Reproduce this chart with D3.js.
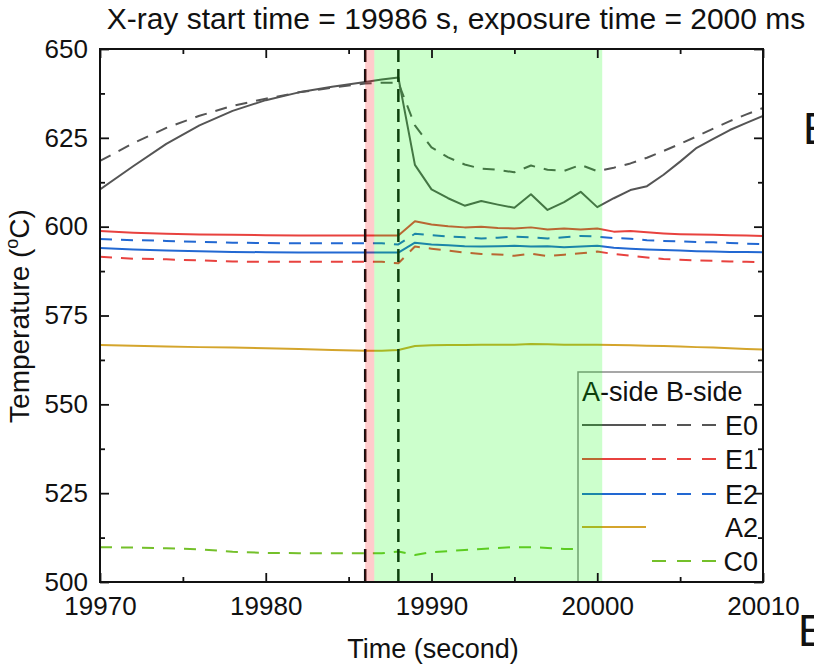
<!DOCTYPE html>
<html><head><meta charset="utf-8">
<script src="https://cdn.jsdelivr.net/npm/d3@7"></script>
<style>
body{margin:0;background:#fff}
svg{display:block}
text{font-family:"Liberation Sans",Arial,Helvetica,sans-serif;fill:#111}
</style>
</head><body>
<svg id="chart" width="814" height="666"></svg>
<script>
// ---------------- data ----------------
const titleText = "X-ray start time = 19986 s, exposure time = 2000 ms";
const xTicks = [19970, 19980, 19990, 20000, 20010];
const xMinor = [19975, 19985, 19995, 20005];
const yTicks = [500, 525, 550, 575, 600, 625, 650];
const yMinor = [512.5, 537.5, 562.5, 587.5, 612.5, 637.5];

const times = [19970,19972,19974,19976,19978,19980,19982,19984,19986,19987,19988,19989,19990,19991,19992,19993,19994,19995,19996,19997,19998,19999,20000,20001,20002,20003,20004,20005,20006,20007,20008,20009,20010];

const e0A = [610.5,617,623.3,628.5,632.6,635.6,637.8,639.4,640.7,641.4,642,617.4,610.5,608,605.9,607.2,606.2,605.3,609.1,604.7,606.9,609.8,605.5,608,610.3,611.4,614.6,618.3,622.2,624.7,627.2,629.2,631.2];
const e0B = [618.5,623.5,627.8,631.2,634,636,637.8,639.1,640.3,640.5,640.5,628.5,622.3,619.5,617.5,616.3,616,615.3,617.2,616,615.7,617.4,615.6,616.6,617.8,619.4,621.3,623.3,625.4,627.6,629.7,631.6,633.4];
const e1A = [598.8,598.3,598,597.8,597.7,597.6,597.5,597.5,597.5,597.5,597.5,601.5,600.6,600.1,599.8,600,599.6,599.5,599.8,599.2,599.5,599.2,599.5,598.6,598.8,598.4,598.1,597.9,597.8,597.7,597.6,597.5,597.4];
const e1B = [591.5,591,590.8,590.5,590.2,590.1,590.1,590.1,590.1,590.1,589.7,594.4,593.8,593.3,592.7,592.3,592.2,591.8,592.4,591.7,592.1,592.5,593,592.3,591.8,591.3,590.9,590.7,590.5,590.4,590.2,590.1,590];
const e2A = [594,593.6,593.3,593.1,592.9,592.8,592.7,592.7,592.7,592.7,592.7,595.5,595,594.8,594.5,594.4,594.5,594.6,594.4,594.5,594.2,594.4,594.6,594.1,593.8,593.6,593.4,593.3,593.1,593,592.9,592.9,592.8];
const e2B = [596.5,596.2,596,595.7,595.5,595.4,595.3,595.3,595.3,595.3,595,598,597.6,597.2,597,596.7,596.9,597.2,597,596.7,597,597.4,597.2,596.8,596.6,596.2,596,595.9,595.7,595.6,595.4,595.2,595.1];
const a2A = [566.7,566.5,566.3,566.1,566,565.8,565.6,565.3,565.1,565.1,565.3,566.4,566.6,566.7,566.7,566.8,566.8,566.8,567,566.9,566.8,566.8,566.8,566.7,566.6,566.5,566.4,566.3,566.1,566,565.8,565.6,565.4];
const c0B = [509.8,509.7,509.5,509.2,508.5,508.2,508.1,508.1,508.1,508.1,508.6,507.6,508.4,508.7,509,509.3,509.6,509.8,509.8,509.6,509.3,509.3];

const xrayStart = 19986;
const exposureStart = 19986.55;
const exposureEnd = 20000.3;
const markerLines = [19986, 19988];

const seriesNames = ["E0", "E1", "E2", "A2", "C0"];
const seriesColors = ["#555555", "#e8423f", "#2268d2", "#d4a52c", "#74c02a"];

// ---------------- layout ----------------
const L = 100, R = 763, T = 49, B = 582;
const svg = d3.select("#chart");
const x = d3.scaleLinear().domain([19970, 20010]).range([L, R]);
const y = d3.scaleLinear().domain([500, 650]).range([B, T]);

const series = [
  {vals: e0A, color: seriesColors[0], dash: null},
  {vals: e0B, color: seriesColors[0], dash: "12,9"},
  {vals: e1A, color: seriesColors[1], dash: null},
  {vals: e1B, color: seriesColors[1], dash: "12,9"},
  {vals: e2A, color: seriesColors[2], dash: null},
  {vals: e2B, color: seriesColors[2], dash: "12,9"},
  {vals: a2A, color: seriesColors[3], dash: null},
  {vals: c0B, color: seriesColors[4], dash: "12,9"}
];

svg.append("clipPath").attr("id", "plotclip")
  .append("rect").attr("x", L).attr("y", T).attr("width", R - L).attr("height", B - T);

const gData = svg.append("g").attr("clip-path", "url(#plotclip)");
const line = d3.line().x(d => x(d[0])).y(d => y(d[1]));
series.forEach(s => {
  const pts = s.vals.map((v, i) => [times[i], v]);
  gData.append("path").datum(pts)
    .attr("d", line)
    .attr("fill", "none")
    .attr("stroke", s.color)
    .attr("stroke-width", 2)
    .attr("stroke-linejoin", "round")
    .attr("stroke-dasharray", s.dash);
});

// vertical dashed markers
gData.selectAll("line.mk").data(markerLines).join("line")
  .attr("class", "mk")
  .attr("x1", d => x(d)).attr("x2", d => x(d))
  .attr("y1", T).attr("y2", B)
  .attr("stroke", "#111").attr("stroke-width", 2.5)
  .attr("stroke-dasharray", "13,7");

// ---------------- legend ----------------
const lg = svg.append("g");
const lgX = 578, lgY = 372, lgW = R - 578, lgH = B - 372;
lg.append("rect").attr("x", lgX).attr("y", lgY).attr("width", lgW).attr("height", lgH)
  .attr("fill", "#fff").attr("stroke", "#8a8a8a").attr("stroke-width", 1.5);
lg.append("text").attr("x", 582).attr("y", 401).attr("font-size", 27).text("A-side B-side");
const rowY = [425, 459, 494, 527, 561];
const hasA = [true, true, true, true, false];
const hasB = [true, true, true, false, true];
seriesNames.forEach((n, i) => {
  if (hasA[i]) lg.append("line").attr("x1", 582).attr("x2", 646).attr("y1", rowY[i]).attr("y2", rowY[i])
    .attr("stroke", seriesColors[i]).attr("stroke-width", 2.2);
  if (hasB[i]) lg.append("line").attr("x1", 652).attr("x2", 716).attr("y1", rowY[i]).attr("y2", rowY[i])
    .attr("stroke", seriesColors[i]).attr("stroke-width", 2.2).attr("stroke-dasharray", "14,11");
  lg.append("text").attr("x", 758).attr("y", rowY[i]).attr("dy", "0.36em")
    .attr("text-anchor", "end").attr("font-size", 27).text(n);
});

// ---------------- shaded overlays ----------------
svg.append("rect").attr("x", x(xrayStart)).attr("y", T)
  .attr("width", x(exposureStart) - x(xrayStart)).attr("height", B - T)
  .attr("fill", "#ff0000").attr("fill-opacity", 0.2);
svg.append("rect").attr("x", x(exposureStart)).attr("y", T)
  .attr("width", x(exposureEnd) - x(exposureStart)).attr("height", B - T)
  .attr("fill", "#00ff00").attr("fill-opacity", 0.2);

// ---------------- axes ----------------
function styleAxis(g) {
  g.select(".domain").remove();
  g.selectAll(".tick line").attr("stroke", "#111").attr("stroke-width", 1.8);
  g.selectAll("text").attr("font-size", 26).attr("fill", "#111")
    .attr("font-family", '"Liberation Sans",Arial,sans-serif');
}
const gx = svg.append("g").attr("transform", `translate(0,${B})`)
  .call(d3.axisBottom(x).tickValues(xTicks).tickFormat(d3.format("d")).tickSize(-9).tickPadding(15));
styleAxis(gx);
const gxm = svg.append("g").attr("transform", `translate(0,${B})`)
  .call(d3.axisBottom(x).tickValues(xMinor).tickFormat("").tickSize(-5));
styleAxis(gxm);
const gxt = svg.append("g").attr("transform", `translate(0,${T})`)
  .call(d3.axisTop(x).tickValues(xTicks).tickFormat("").tickSize(-9));
styleAxis(gxt);
const gxtm = svg.append("g").attr("transform", `translate(0,${T})`)
  .call(d3.axisTop(x).tickValues(xMinor).tickFormat("").tickSize(-5));
styleAxis(gxtm);

const gy = svg.append("g").attr("transform", `translate(${L},0)`)
  .call(d3.axisLeft(y).tickValues(yTicks).tickFormat(d3.format("d")).tickSize(-9).tickPadding(12));
styleAxis(gy);
const gym = svg.append("g").attr("transform", `translate(${L},0)`)
  .call(d3.axisLeft(y).tickValues(yMinor).tickFormat("").tickSize(-5));
styleAxis(gym);
const gyr = svg.append("g").attr("transform", `translate(${R},0)`)
  .call(d3.axisRight(y).tickValues(yTicks).tickFormat("").tickSize(-9));
styleAxis(gyr);
const gyrm = svg.append("g").attr("transform", `translate(${R},0)`)
  .call(d3.axisRight(y).tickValues(yMinor).tickFormat("").tickSize(-5));
styleAxis(gyrm);

// frame
svg.append("rect").attr("x", L).attr("y", T).attr("width", R - L).attr("height", B - T)
  .attr("fill", "none").attr("stroke", "#111").attr("stroke-width", 2);

// ---------------- titles ----------------
svg.append("text").attr("x", 456).attr("y", 29).attr("text-anchor", "middle")
  .attr("font-size", 30).text(titleText);
svg.append("text").attr("x", 433).attr("y", 658).attr("text-anchor", "middle")
  .attr("font-size", 27).text("Time (second)");
const yl = svg.append("text").attr("transform", `translate(29,316) rotate(-90)`)
  .attr("text-anchor", "middle").attr("font-size", 28);
yl.append("tspan").text("Temperature (");
yl.append("tspan").attr("font-size", 18).attr("dy", "-0.6em").text("o");
yl.append("tspan").attr("dy", "0.39em").text("C)");

// stray figure letters at the right edge
svg.append("text").attr("x", 803).attr("y", 144).attr("font-size", 44)
  .attr("font-family", '"Liberation Serif","Times New Roman",serif').text("E");
svg.append("text").attr("x", 798).attr("y", 646).attr("font-size", 44)
  .attr("font-family", '"Liberation Serif","Times New Roman",serif').text("E");
</script>
</body></html>
